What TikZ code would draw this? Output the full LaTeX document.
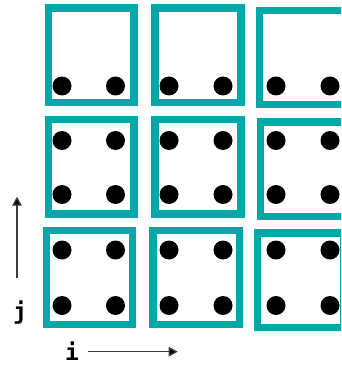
\documentclass[tikz,border=0pt]{standalone}
\usepackage{fontspec}
\newfontfamily\labelfont{DejaVu Sans Mono}
\usetikzlibrary{arrows.meta}
\definecolor{teal1}{RGB}{0,168,168}
\definecolor{axisgray}{RGB}{60,60,60}
\tikzset{
  cell/.style={draw=teal1, line width=7.3pt},
  pt/.style={fill=black, circle, inner sep=0pt, minimum size=19pt},
  axis/.style={draw=axisgray, line width=1.3pt, -{Triangle[length=9pt,width=9.5pt,fill=black]}},
  lbl/.style={font=\labelfont\bfseries\fontsize{23}{23}\selectfont, inner sep=0pt, anchor=base}
}
\begin{document}
\begin{tikzpicture}[x=1pt,y=-1pt]
\useasboundingbox (0,0) rectangle (341,366);
\clip (0,0) rectangle (341,366);
% row 1
\draw[cell] (48.2,8) rectangle (134,102.7);
\draw[cell] (155,8) rectangle (241,102.7);
\draw[cell] (259.7,10.3) rectangle (345.5,104.7);
% row 2
\draw[cell] (48.3,119.7) rectangle (134,214);
\draw[cell] (155,119.7) rectangle (241,214);
\draw[cell] (260.3,122) rectangle (346,216.3);
% row 3
\draw[cell] (46.3,230.7) rectangle (132.3,324.7);
\draw[cell] (153,230.7) rectangle (239.7,324.7);
\draw[cell] (257.7,233) rectangle (344,327.3);
% dots
\foreach \x [count=\c] in {62,115.5,169,223,276,330} {
  \node[pt] (r1c\c) at (\x,86) {};
  \node[pt] (r2a\c) at (\x,140.5) {};
  \node[pt] (r2b\c) at (\x,194.5) {};
  \node[pt] (r3a\c) at (\x,250) {};
  \node[pt] (r3b\c) at (\x,305.5) {};
}
% axes
\coordinate (jfrom) at (17,278);
\coordinate (jto) at (17,196.7);
\draw[axis] (jfrom) -- (jto);
\coordinate (ifrom) at (88.3,351.7);
\coordinate (ito) at (177.7,351.7);
\draw[axis] (ifrom) -- (ito);
\node[lbl] (jlab) at (20,319.5) {j};
\node[lbl] (ilab) at (72,360.5) {i};
\end{tikzpicture}
\end{document}
